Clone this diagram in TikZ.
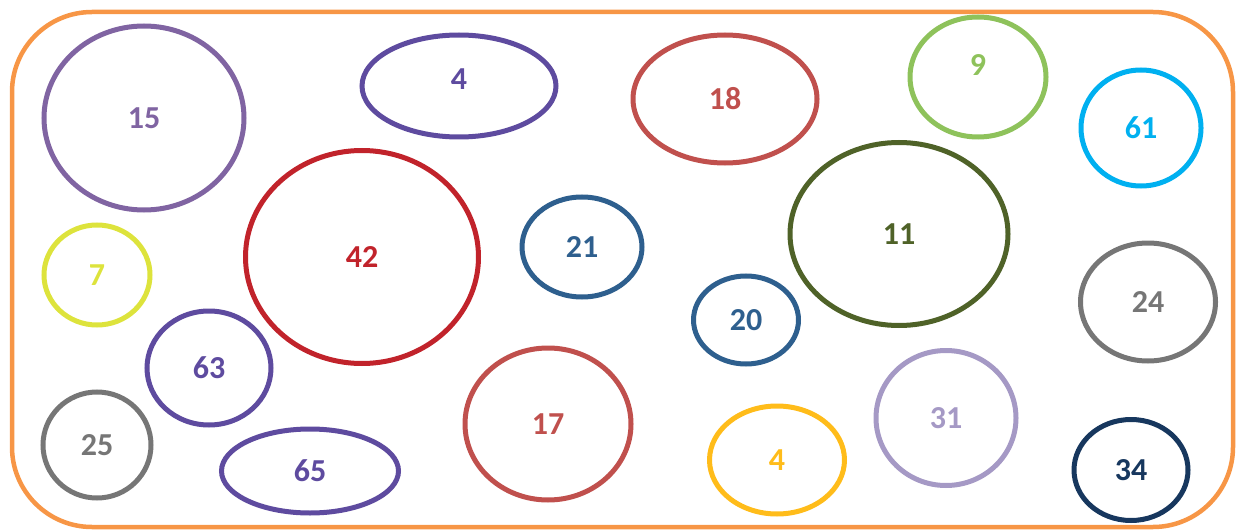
\documentclass[tikz,border=0pt]{standalone}
\usepackage{fontspec}
\setmainfont{Carlito}
\usetikzlibrary{shapes.geometric}
\definecolor{frameorange}{HTML}{F79646}
\definecolor{lilac}{HTML}{8064A2}
\definecolor{indigo}{HTML}{5E4B9F}
\definecolor{brick}{HTML}{C0504D}
\definecolor{leaf}{HTML}{8EC25B}
\definecolor{sky}{HTML}{00B0F0}
\definecolor{crimson}{HTML}{C1232B}
\definecolor{steel}{HTML}{2E5F8E}
\definecolor{olive}{HTML}{4F6228}
\definecolor{lime}{HTML}{DDE33C}
\definecolor{ash}{HTML}{767676}
\definecolor{lavender}{HTML}{A599C5}
\definecolor{amber}{HTML}{FFBC1A}
\definecolor{navy}{HTML}{17375E}
\tikzset{ring/.style={ellipse,draw=#1,text=#1,line width=5pt,inner sep=0pt,font=\fontsize{32}{34}\selectfont\bfseries}, frame/.style={draw=frameorange,line width=4.5pt,rounded corners=80pt}}

\begin{document}
\begin{tikzpicture}[x=1pt,y=-1pt]
\useasboundingbox (0,0) rectangle (1237,532);
\draw[frame] (12,12) rectangle (1233,527);
\node[ring=lilac,minimum width=200pt,minimum height=184pt] (n15) at (144,118) {15};
\node[ring=indigo,minimum width=194pt,minimum height=102pt,text depth=14pt] (n4a) at (459,86) {4};
\node[ring=brick,minimum width=184pt,minimum height=128pt] (n18) at (725,99) {18};
\node[ring=leaf,minimum width=136pt,minimum height=120pt,text depth=24pt] (n9) at (978,77) {9};
\node[ring=sky,minimum width=120pt,minimum height=116pt] (n61) at (1141,128) {61};
\node[ring=crimson,minimum width=233pt,minimum height=213pt] (n42) at (362,257) {42};
\node[ring=steel,minimum width=120pt,minimum height=100pt] (n21) at (582,247) {21};
\node[ring=olive,minimum width=218pt,minimum height=183pt] (n11) at (899,234) {11};
\node[ring=lime,minimum width=106pt,minimum height=100pt] (n7) at (97,275) {7};
\node[ring=ash,minimum width=135pt,minimum height=118pt] (n24) at (1148,302) {24};
\node[ring=steel,minimum width=105pt,minimum height=88pt] (n20) at (746,320) {20};
\node[ring=indigo,minimum width=124pt,minimum height=114pt] (n63) at (209,368) {63};
\node[ring=brick,minimum width=166pt,minimum height=152pt] (n17) at (548,424) {17};
\node[ring=lavender,minimum width=140pt,minimum height=135pt] (n31) at (946,418) {31};
\node[ring=ash,minimum width=108pt,minimum height=106pt] (n25) at (97,445) {25};
\node[ring=indigo,minimum width=177pt,minimum height=84pt] (n65) at (310,471) {65};
\node[ring=amber,minimum width=135pt,minimum height=108pt] (n4b) at (777,460) {4};
\node[ring=navy,minimum width=114pt,minimum height=101pt] (n34) at (1131,470) {34};
\end{tikzpicture}
\end{document}
